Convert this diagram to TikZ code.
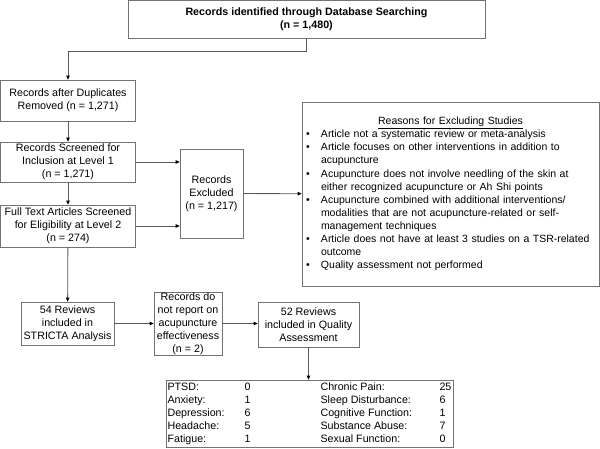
\documentclass[tikz,border=0pt]{standalone}
\usepackage{fontspec}
\setmainfont{Liberation Sans}
\usepackage{tikz}
\usetikzlibrary{positioning,arrows.meta}

\newcommand{\rsn}[1]{\makebox[15pt][l]{\textbullet}\mbox{#1}}
\newcommand{\rsncont}[1]{\hspace*{15pt}\mbox{#1}}

\begin{document}
\begin{tikzpicture}[x=1pt,y=-1pt,>={Triangle[length=4pt,width=3.6pt,color=black]},font=\fontsize{10.7}{13}\selectfont]
        \tikzstyle{box}=[draw=black!55,rectangle,align=center,inner sep=0pt,line width=0.8pt]
        \tikzstyle{link}=[draw=black!65,line width=0.8pt]
        \useasboundingbox (0,0) rectangle (600,448);
        % flow down the left side
        \node[box,minimum width=357pt,minimum height=38pt,font=\fontsize{10.7}{13}\selectfont\bfseries] (found) at (306.5,19.5) {Records identified through Database Searching\\(n = 1,480)};
        \node[box,minimum width=135pt,minimum height=41pt] (dedup) at (68,100.5) {Records after Duplicates\\Removed (n = 1,271)};
        \node[box,minimum width=135pt,minimum height=40pt] (lvlone) at (68,162) {Records Screened for\\Inclusion at Level 1\\(n = 1,271)};
        \node[box,minimum width=135pt,minimum height=42pt] (lvltwo) at (68,226) {Full Text Articles Screened\\for Eligibility at Level 2\\(n = 274)};
        \node[box,minimum width=63pt,minimum height=89pt] (excl) at (211.5,193.5) {Records\\Excluded\\(n = 1,217)};
        \node[box,minimum width=297pt,minimum height=184pt,align=left,text width=289pt,font=\fontsize{10.5}{13.1}\selectfont] (reasons) at (450.5,194) {%
            \makebox[289pt][c]{\underline{Reasons for Excluding Studies}}\\
            \rsn{Article not a systematic review or meta-analysis}\\
            \rsn{Article focuses on other interventions in addition to}\\
            \rsncont{acupuncture}\\
            \rsn{Acupuncture does not involve needling of the skin at}\\
            \rsncont{either recognized acupuncture or Ah Shi points}\\
            \rsn{Acupuncture combined with additional interventions/}\\
            \rsncont{modalities that are not acupuncture-related or self-}\\
            \rsncont{management techniques}\\
            \rsn{Article does not have at least 3 studies on a TSR-related}\\
            \rsncont{outcome}\\
            \rsn{Quality assessment not performed}};
        % bottom row
        \node[box,minimum width=93pt,minimum height=43pt] (stricta) at (67.5,323.5) {54 Reviews\\included in\\STRICTA Analysis};
        \node[box,minimum width=68pt,minimum height=63pt] (noeff) at (188,323.5) {Records do\\not report on\\acupuncture\\effectiveness\\(n = 2)};
        \node[box,minimum width=101pt,minimum height=45pt] (quality) at (308.5,324.5) {52 Reviews\\included in Quality\\Assessment};
        \node[box,minimum width=287pt,minimum height=67pt,align=left] (topics) at (309.5,413.5) {%
            \begin{tabular}{@{}p{77pt}@{}p{76pt}@{}p{119pt}@{}l@{}}
            PTSD: & 0 & Chronic Pain: & 25\\
            Anxiety: & 1 & Sleep Disturbance: & 6\\
            Depression: & 6 & Cognitive Function: & 1\\
            Headache: & 5 & Substance Abuse: & 7\\
            Fatigue: & 1 & Sexual Function: & 0
            \end{tabular}};
        % connectors
        \draw[link,->] (found.south) -- ++(0,12) -| (dedup.north);
        \path[link,->]
        (dedup) edge (lvlone)
        (lvlone) edge (lvltwo)
        (lvltwo) edge (stricta)
        (excl) edge (reasons)
        (stricta) edge (noeff);
        \draw[link,->] (lvlone.east) -- (lvlone.east -| excl.west);
        \draw[link,->] (lvltwo.east) -- (lvltwo.east -| excl.west);
        \draw[link,->] (noeff.east) -- (noeff.east -| quality.west);
        \draw[link,->] (quality.south) -- (quality.south |- topics.north);
    \end{tikzpicture}
\end{document}
